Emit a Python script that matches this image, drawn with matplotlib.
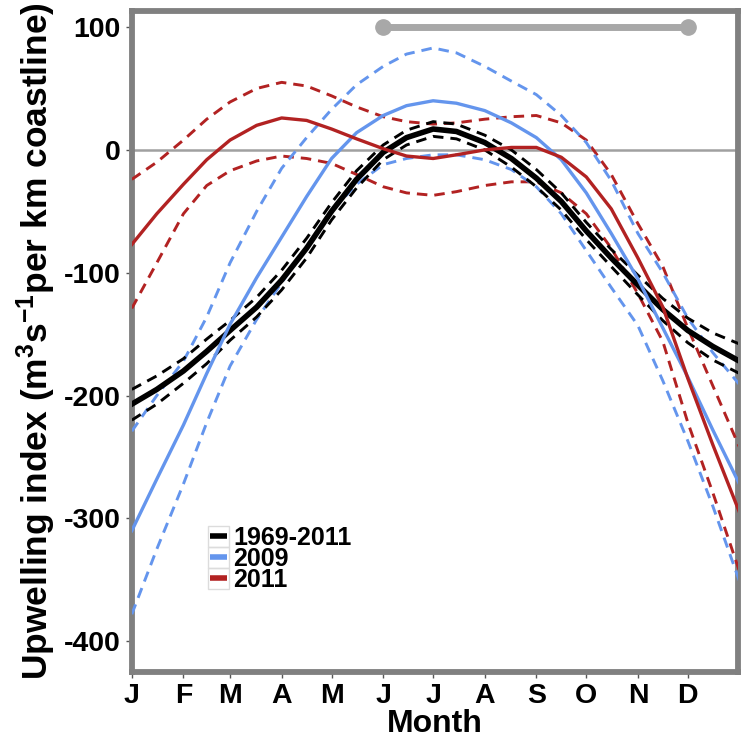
import matplotlib
matplotlib.use("Agg")
import matplotlib.pyplot as plt
from matplotlib.lines import Line2D
from matplotlib.patches import Rectangle

plt.rcParams['font.family'] = ['Liberation Sans', 'DejaVu Sans']
plt.rcParams['font.weight'] = 'bold'
plt.rcParams['axes.unicode_minus'] = False
plt.rcParams['mathtext.fontset'] = 'custom'
plt.rcParams['mathtext.rm'] = 'Liberation Sans:bold'
plt.rcParams['mathtext.bf'] = 'Liberation Sans:bold'
plt.rcParams['mathtext.default'] = 'rm'

# day of year
days = [0, 15, 31, 45, 59, 75, 90, 105, 120, 135, 151, 165, 181, 195, 212,
        228, 243, 258, 273, 288, 304, 319, 334, 349, 365]

clim_mean = [-207, -195, -180, -164, -147, -128, -106, -80, -50, -24, -2, 10, 17,
             15, 6, -7, -23, -42, -66, -88, -110, -130, -147, -160, -172]
clim_upper = [-195, -184, -170, -154, -139, -120, -98, -72, -43, -17, 4, 16, 23,
              21, 12, 0, -16, -35, -59, -81, -102, -121, -137, -149, -158]
clim_lower = [-220, -207, -190, -174, -155, -136, -114, -88, -57, -31, -8, 4, 11,
              9, 0, -14, -30, -49, -73, -95, -118, -139, -157, -171, -182]

y2009_mean = [-310, -268, -224, -182, -142, -104, -71, -38, -7, 14, 28, 36, 40,
              38, 32, 22, 10, -8, -35, -68, -105, -145, -185, -228, -272]
y2009_upper = [-229, -200, -172, -136, -92, -50, -15, 10, 33, 53, 68, 78, 83,
               79, 68, 56, 45, 28, 6, -25, -68, -100, -137, -165, -191]
y2009_lower = [-378, -325, -272, -222, -176, -138, -108, -80, -50, -28, -12, -7, -4,
               -4, -8, -16, -30, -52, -82, -112, -143, -188, -237, -290, -351]

y2011_mean = [-77, -52, -28, -8, 8, 20, 26, 24, 17, 9, 1, -5, -7,
              -4, 0, 2, 2, -6, -22, -48, -88, -128, -186, -240, -295]
y2011_upper = [-24, -10, 8, 25, 39, 50, 55, 52, 44, 35, 27, 23, 21,
               22, 25, 27, 28, 22, 8, -20, -60, -95, -145, -192, -242]
y2011_lower = [-129, -92, -52, -29, -17, -9, -5, -7, -11, -20, -30, -35, -37,
               -34, -29, -26, -26, -35, -52, -80, -117, -156, -222, -279, -343]

bar_days = [151, 334]
bar_values = [100, 100]

month_ticks = [0, 31, 59, 90, 120, 151, 181, 212, 243, 273, 304, 334]
month_labels = ['J', 'F', 'M', 'A', 'M', 'J', 'J', 'A', 'S', 'O', 'N', 'D']
y_ticks = [100, 0, -100, -200, -300, -400]
legend_labels = ['1969-2011', '2009', '2011']

BLUE = '#6495ED'
RED = '#B22222'
GRAY = '#808080'

fig = plt.figure(figsize=(7.49, 7.40), dpi=100)
ax = fig.add_axes([0.176, 0.092, 0.809, 0.893])

ax.axhline(0, color='#a0a0a0', lw=1.8, zorder=1)
ax.plot(bar_days, bar_values, color='#a8a8a8', lw=5, marker='o', ms=11,
        solid_capstyle='round', zorder=2)

dash = (0, (3.6, 2.4))
ax.plot(days, y2011_upper, color=RED, lw=2.1, ls=dash, zorder=3)
ax.plot(days, y2011_lower, color=RED, lw=2.1, ls=dash, zorder=3)
ax.plot(days, y2009_upper, color=BLUE, lw=2.1, ls=dash, zorder=3)
ax.plot(days, y2009_lower, color=BLUE, lw=2.1, ls=dash, zorder=3)
ax.plot(days, clim_mean, color='black', lw=4.0, zorder=4)
ax.plot(days, clim_upper, color='black', lw=2.1, ls=dash, zorder=4)
ax.plot(days, clim_lower, color='black', lw=2.1, ls=dash, zorder=4)
ax.plot(days, y2009_mean, color=BLUE, lw=2.4, zorder=5)
ax.plot(days, y2011_mean, color=RED, lw=2.4, zorder=5)

ax.set_xlim(0, 364)
ax.set_ylim(-425, 113)

for s in ax.spines.values():
    s.set_color(GRAY)
    s.set_linewidth(4.2)

ax.set_xticks(month_ticks)
ax.set_xticklabels(month_labels)
ax.set_yticks(y_ticks)
ax.set_yticklabels([str(v) for v in y_ticks])
ax.tick_params(axis='both', direction='out', length=4, width=1, color='#555555',
               labelsize=20.5, pad=4)
for lab in ax.get_xticklabels() + ax.get_yticklabels():
    lab.set_fontweight('bold')

ax.set_xlabel('Month', fontsize=23, fontweight='bold', labelpad=0)
ax.set_ylabel('Upwelling index (m$^3$s$^{-1}$per km coastline)', fontsize=25.5,
              fontweight='bold', labelpad=4)

handles = [Line2D([], [], color='black', lw=4, solid_capstyle='butt'),
           Line2D([], [], color=BLUE, lw=4, solid_capstyle='butt'),
           Line2D([], [], color=RED, lw=4, solid_capstyle='butt')]
leg = ax.legend(handles, legend_labels, loc='upper left',
                bbox_to_anchor=(0.109, 0.24), frameon=False,
                handlelength=0.68, handletextpad=0.25, labelspacing=-0.12,
                borderpad=0.0, prop={'weight': 'bold', 'size': 18})

fig.canvas.draw()
renderer = fig.canvas.get_renderer()
for h in leg.legend_handles:
    bb = h.get_window_extent(renderer)
    cx = (bb.x0 + bb.x1) / 2
    cy = (bb.y0 + bb.y1) / 2
    w, hgt = 21, 21
    fig.patches.append(Rectangle((cx - w / 2, cy - hgt / 2), w, hgt,
                                 transform=None, fill=False,
                                 edgecolor='#dcdcdc', lw=1.0, zorder=0))

fig.savefig('out.png', dpi=100)
